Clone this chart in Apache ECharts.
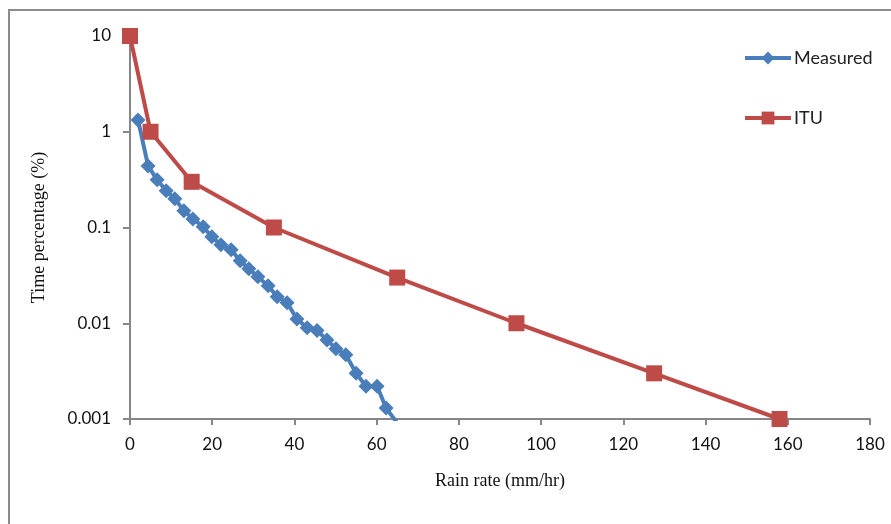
<!DOCTYPE html>
<html>
<head>
<meta charset="utf-8">
<script src="https://cdn.jsdelivr.net/npm/echarts@6/dist/echarts.min.js"></script>
<style>
html,body{margin:0;padding:0;background:#fff;}
#chart{width:891px;height:524px;}
</style>
</head>
<body>
<div id="chart"></div>
<script>
var measuredX = [1.95, 4.4, 6.6, 8.8, 10.9, 13.1, 15.3, 17.8, 19.9, 22.1, 24.6, 26.8, 28.9, 31.1, 33.6, 35.8, 38.2, 40.6, 43.1, 45.5, 47.9, 50.1, 52.5, 55.0, 57.4, 60.1, 62.3, 65.5];
var measuredY = [1.33, 0.44, 0.315, 0.242, 0.20, 0.15, 0.123, 0.102, 0.080, 0.066, 0.0586, 0.045, 0.037, 0.0306, 0.0247, 0.0189, 0.0164, 0.0111, 0.0090, 0.0084, 0.0067, 0.0054, 0.0047, 0.0030, 0.0022, 0.0022, 0.0013, 0.00085];
var ituX = [0, 5, 15, 35, 65, 94, 127.5, 158];
var ituY = [10, 1, 0.3, 0.1, 0.03, 0.01, 0.003, 0.001];
var yTickLabels = {'0.001': '0.001', '0.01': '0.01', '0.1': '0.1', '1': '1', '10': '10'};
var xAxisTitle = 'Rain rate (mm/hr)';
var yAxisTitle = 'Time percentage (%)';

function pairs(xs, ys) { return xs.map(function (x, i) { return [x, ys[i]]; }); }

var chart = echarts.init(document.getElementById('chart'));
var axisColor = '#868686';
var labelFont = 'Lato, "Open Sans", sans-serif';
chart.setOption({
  animation: false,
  backgroundColor: '#fff',
  graphic: [{
    type: 'rect', shape: {x: 9, y: 10, width: 900, height: 600},
    style: {fill: 'none', stroke: '#8c8c8c', lineWidth: 2}, silent: true, z: -1
  }],
  grid: {left: 130, right: 21, top: 36, bottom: 105},
  legend: {
    orient: 'vertical', left: 738, top: 44,
    itemWidth: 46, itemHeight: 16, itemGap: 42,
    lineStyle: {width: 4},
    textStyle: {fontFamily: labelFont, fontSize: 18, color: '#222', padding: [0, 0, 0, -2]},
    data: ['Measured', 'ITU']
  },
  xAxis: {
    type: 'value', min: 0, max: 180, interval: 20,
    axisLine: {show: true, lineStyle: {color: axisColor, width: 2}},
    axisTick: {show: true, length: 6, lineStyle: {color: axisColor, width: 2}},
    splitLine: {show: false},
    axisLabel: {fontFamily: labelFont, fontSize: 17, color: '#111', margin: 17},
    name: xAxisTitle, nameLocation: 'middle', nameGap: 53,
    nameTextStyle: {fontFamily: '"Liberation Serif", "DejaVu Serif", serif', fontSize: 18, color: '#111'}
  },
  yAxis: {
    type: 'log', logBase: 10, min: 0.001, max: 10,
    axisLine: {show: true, lineStyle: {color: axisColor, width: 2}},
    axisTick: {show: true, inside: false, length: 7, lineStyle: {color: axisColor, width: 2}},
    splitLine: {show: false},
    axisLabel: {
      fontFamily: labelFont, fontSize: 17, color: '#111', margin: 19,
      formatter: function (v) {
        var k = String(+v.toPrecision(3));
        return yTickLabels[k] !== undefined ? yTickLabels[k] : k;
      }
    },
    name: yAxisTitle, nameLocation: 'middle', nameGap: 82, nameRotate: 90,
    nameTextStyle: {fontFamily: '"Liberation Serif", "DejaVu Serif", serif', fontSize: 18, color: '#111'}
  },
  series: [{
    name: 'Measured', type: 'line', data: pairs(measuredX, measuredY),
    symbol: 'diamond', symbolSize: 15, showAllSymbol: true, clip: true,
    itemStyle: {color: '#4A7EBB'},
    lineStyle: {color: '#4A7EBB', width: 4}
  }, {
    name: 'ITU', type: 'line', data: pairs(ituX, ituY),
    symbol: 'rect', symbolSize: 16, showAllSymbol: true, clip: false,
    itemStyle: {color: '#BE4B48'},
    lineStyle: {color: '#BE4B48', width: 4}
  }]
});
</script>
</body>
</html>
